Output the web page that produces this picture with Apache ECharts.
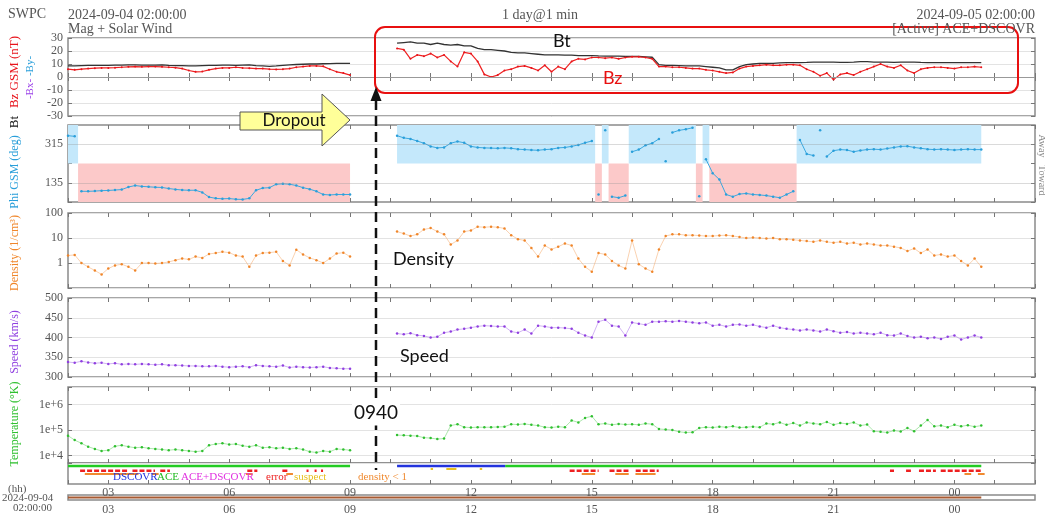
<!DOCTYPE html>
<html><head><meta charset="utf-8">
<script src="https://cdn.jsdelivr.net/npm/echarts/dist/echarts.min.js"></script>
<style>html,body{margin:0;padding:0;background:#fff}#c{width:1045px;height:516px}</style>
</head><body><div id="c"></div>
<script>
// ---------------- DATA (hours since 2024-09-04 00:00) ----------------
const startA = 2;             // 02:00
const startB = 10 + 10/60;    // 10:10 (after the dropout)
const stepH = 10/60;          // 10-minute samples
const gapAt = 9.5;

const btA = [8.5,8.6,8.8,9,9,9, 9,9.2,9.2,9.3,9.3,9.2, 9.2,9.2,9.3,9.0,8.8,8.8, 8.6,8.6,8.8,9,9,9.2, 9.2,9.0,9.2,9.3,8.8,8.5, 8.2,8.5,9,9.4,9.6,9.8, 10,10,10.2,10.3,10.5,10.5,10.5];
const btB = [26,26.5,27,26,26, 25,26,25,24.5,25,24,24, 22,21,21,20.5,20,19, 18.5,18.5,18,17.5, 17,17,17,16.8,16.8,16.5,16.5,16.5,16.2,16, 16,16,15.8,15.8,15.8,15.5,15.2, 9.5,9,9,8.8,8.5,8.5,8.5,8,7.5,7, 5.5,5.5, 8,9.5,10,10.5,10.5,10.5,10.8,11,11,11, 11.2,11.5,11.5,11.5,11.5,11.2,11.3,11.5,11.8,11.8,11.5,11.5,11.5,11.2,11.5,11.5,11.5,11.2,11,11,11,11,11,11,11,11,11];
const bzA = [6,5.5,6,6.5,6.8,7, 7,7.2,7.5,7.8,8,7.8, 8,8,7.8,7.5,7.2,6.5, 5,4,4.2,5.5,6.5,7, 7,7.5,7,6.8,6.5,6.5, 6,5.8,6,6.5,7.5,8, 8.5,8.5,8.2,6,4,3,1.5];
const bzB = [22,21,14,17,16, 18,15,17,12,8,19,18, 12,2,0,1.5,5,6, 8,8.5,7, 5,9,4,8,6, 12,14,13.5,15, 15,14.5,15,14,15,15.5,15.5,15,14, 8,8,7.5,7.5,7,6.5,6.5,5.5,5,4, 3,3.5, 6.5,8,8.5,9,9.5,9,9,9.5,9.5,9, 6,4,1,3,-2, 2,3,1.5,4, 6,8,10,8,7, 9,5,3,6, 7,7.5,7.5,7,6.5,7.5,7.5,8,7.5];
const phiA = [355,352,95,95,96,98, 99,101,103,115,122,118, 116,114,113,108,104,101, 100,100,90,68,62,60, 61,58,57,62,100,110, 112,128,130,128,122,112, 105,95,80,78,80,80,80];
const phiB = [355,345,340,330, 320,305,298,300,320, 328,322, 305,300,298,297,296,298,296, 292,290,288,287,290,292,298, 300,305,312,322,330, 80,380,70,65,75, 280,290,310,320,340,235, 370,380,385,392, 72, 245,180, 150,80,70,82,85,80,78,75,70,65,80,95, 335,270,262,380,258,285,290,288,280,286,290,292,290,295,300,305,306,300,296,292,290,292,290,288,290,292,290,290];
const densA = [2.0,2.1,1.0,0.7,0.5,0.35,0.6,0.8,0.9,0.7, 0.5,1.0,1.0,0.95,1.0,1.1,1.3,1.5,1.4,1.8, 1.6,2.3,2.5,2.8,2.6,2.0,1.8,0.7,2.0,2.5, 2.6,2.8,1.2,0.8,3.4,2.2,1.6,1.3,1.0,1.5, 2.4,2.6,1.8];
const densB = [18,15,12,14,22,25,18,14,5.5,8, 18,20,28,27,28,27,24,13,9,8, 4,1.8,5,3.5,4.5,6,5,1.5,0.7,0.45, 2.5,2.2,1.2,0.8,0.6,8,0.9,0.6,0.45,3.5, 12,14,14,13,13,12.5,12,12,12.5,13, 12,11,10,10.5,10,9.5,10,9,9,8.5, 8,7.5,7,8,7,6.5,7,6,6.5,5.5, 6,5.5,5,5,4.5,4,3,3.8,2.5,3.5, 2,2.2,1.8,2.0,1.2,0.8,1.5,0.7];
const speedA = [338,336,340,337,335, 336,333,335,332,333, 332,333,332,331,332,330,330,329, 328,328,327,327,328,326, 325,326,327,325,330,328,327, 326,329,324,326,325,324,325,326,323, 322,321,321];
const speedB = [410,408,411,406, 404,400,402, 412,415, 420,422,425, 428,430,429,428,428, 415,412,420,410, 430,428,425, 425,424,422, 412,405,400, 440,445,430, 428,405, 438,435,432,440, 440,441,440,442,440,438, 436,438,430,432,428,432,433, 430,432,428,425,430,425,422,420,418, 420,418,415,420,416,412,414,410,412, 410,408,412,406,405,410,404,400,402, 398,400,396,402,405,395,400,405,400];
const tempA = [60000,40000,30000, 22000,18000,15000,16000, 23000,25000,22000, 20000,21000,19000, 18000,17000,16000,17000,16000, 15000,14000,15000, 25000,28000,30000,27000,28000, 24000,22000,25000, 20000,21000,19000,20000, 18000,19000,17000, 14000,13000,15000,14000, 18000,17000,16000];
const tempB = [63000,62000,60000,58000, 50000,48000,44000,46000, 150000,170000, 130000,125000,130000,128000,130000,132000,135000, 170000,165000,175000,160000,150000, 130000,125000,135000,130000, 240000,200000,300000,350000, 170000,180000,160000,175000,165000,170000,160000,180000,170000, 110000,105000,100000, 85000,80000,82000, 120000,130000,125000,135000,130000,140000,125000,130000,135000,128000, 180000,170000,200000,160000,190000,150000,200000,180000,170000,210000,160000,190000,175000,200000,150000,165000, 90000,85000,80000,95000,88000,120000,90000, 150000,250000,140000, 150000,130000,160000,140000,155000,135000,150000];

// source / quality strip (hour spans)
const dscovrSpans = [[10.167, 12.85]];
const aceSpans = [[2, 9], [12.85, 24.667]];
const errorSpans = [[2.3,3.47],[3.6,4.16],[4.29,4.53],[6.45,6.7],[7.32,7.47],[7.92,7.97],[8.12,8.17],[8.28,8.33],[14.45,15.17],[15.44,15.91],[16.09,16.66],[22.4,22.5],[22.8,22.92],[23.12,23.54],[23.66,24.667]];
const suspectSpans = [[11.0,11.06],[11.39,11.64],[12.22,12.28]];
const coverageSpan = [[2, 24.667]];

// axis tick labels
const magTicks = [-30,-20,-10,0,10,20,30];
const phiLabels = [135, 315];
const phiSplit = 225;

// ---------------- HELPERS ----------------
function join(a, b, breakJump) {
  const out = [];
  const push = (arr, t0) => {
    let prev = null;
    arr.forEach((v, i) => {
      const t = t0 + i*stepH;
      if (breakJump && prev !== null && Math.abs(v - prev) > breakJump) out.push([t - stepH/2, '-']);
      out.push([t, v]); prev = v;
    });
  };
  push(a, startA); out.push([gapAt, '-']); push(b, startB);
  return out;
}
function spans(list, y) { const d = []; list.forEach(s => { d.push([s[0], y], [s[1], y], [s[1], '-']); }); return d; }
function phiAreas() {
  const areas = [];
  [[phiA, startA], [phiB, startB]].forEach(([arr, t0]) => {
    const segEnd = t0 + (arr.length-1)*stepH;
    let s = 0;
    for (let i = 1; i <= arr.length; i++) {
      const side = v => v >= phiSplit;
      if (i === arr.length || side(arr[i]) !== side(arr[s])) {
        const a = Math.max(t0, t0 + s*stepH - stepH/2), b = Math.min(segEnd, t0 + (i-1)*stepH + stepH/2);
        const up = side(arr[s]);
        areas.push([{xAxis: a, yAxis: up ? phiSplit : 45, itemStyle: {color: up ? '#c4e8fb' : '#fcc9c9'}}, {xAxis: b, yAxis: up ? 405 : phiSplit}]);
        s = i;
      }
    }
  });
  return areas;
}
function lowDensitySpans() {
  const out = [];
  [[densA, startA], [densB, startB]].forEach(([arr, t0]) => arr.forEach((v, i) => { if (v < 1) { const t = t0 + i*stepH; out.push([t - stepH/2, t + stepH/2]); } }));
  return out;
}

// ---------------- LAYOUT ----------------
const serif = "'Liberation Serif','DejaVu Serif',serif";
const sans = "Lato,'Open Sans','Liberation Sans',sans-serif";
const gray = '#555';
const grids = [
  {top: 38, height: 78}, {top: 125, height: 77}, {top: 213, height: 75}, {top: 298, height: 79},
  {top: 387, height: 76}, {top: 463, height: 21}, {top: 495, height: 7}
].map(g => Object.assign({left: 68, right: 10, show: true, borderColor: '#8a8a8a', borderWidth: 1.5, backgroundColor: 'transparent'}, g));

const hourFmt = v => { const r = Math.round(v); return (r % 3 === 0 && r > 2 && r < 26) ? String(r % 24).padStart(2, '0') : ''; };
const xAxes = [], xIdx = [];
grids.forEach((g, gi) => {
  xIdx.push(xAxes.length);
  xAxes.push({type: 'value', gridIndex: gi, min: 2, max: 26, interval: 1, position: 'bottom',
    axisLine: {show: false}, splitLine: {show: false},
    axisTick: {show: gi !== 6, inside: true, length: 4, lineStyle: {color: '#777'}},
    axisLabel: {show: gi >= 5, formatter: hourFmt, color: gray, fontFamily: serif, fontSize: 12, margin: gi === 5 ? 3 : 4}});
  if (gi < 5) xAxes.push({type: 'value', gridIndex: gi, min: 2, max: 26, interval: 1, position: 'top',
    axisLine: {show: false}, splitLine: {show: false}, axisLabel: {show: false},
    axisTick: {show: true, inside: true, length: 4, lineStyle: {color: '#777'}}});
});
const expFmt = v => { const e = Math.log10(v); return Math.abs(e - Math.round(e)) < 1e-6 ? '1e+' + Math.round(e) : ''; };
const yCfg = [
  {type: 'value', min: magTicks[0], max: magTicks[magTicks.length-1], interval: 10, split: true},
  {type: 'value', min: 45, max: 405, interval: 90, fmt: v => phiLabels.indexOf(v) >= 0 ? String(v) : '', split: false},
  {type: 'log', min: 0.1, max: 100, fmt: v => v >= 0.99 ? String(Math.round(v)) : '', split: true},
  {type: 'value', min: 300, max: 500, interval: 50, split: true},
  {type: 'log', min: 5000, max: 5e6, fmt: expFmt, split: true},
  {type: 'value', min: 0, max: 10, hide: true},
  {type: 'value', min: 0, max: 10, hide: true}
];
const yAxes = [], yIdx = [];
yCfg.forEach((c, gi) => {
  yIdx.push(yAxes.length);
  const base = {type: c.type, gridIndex: gi, min: c.min, max: c.max, axisLine: {show: false}};
  if (c.interval) base.interval = c.interval;
  if (c.type === 'log') { base.logBase = 10; base.splitNumber = 3; }
  yAxes.push(Object.assign({}, base, {position: 'left',
    axisTick: {show: !c.hide, inside: true, length: 4, lineStyle: {color: '#777'}},
    axisLabel: {show: !c.hide, color: gray, fontFamily: serif, fontSize: 12, margin: 5, formatter: c.fmt || (v => String(v))},
    splitLine: {show: !!c.split, lineStyle: {color: '#e3e3e3', width: 1}}}));
  if (!c.hide) yAxes.push(Object.assign({}, base, {position: 'right',
    axisTick: {show: true, inside: true, length: 4, lineStyle: {color: '#777'}},
    axisLabel: {show: false}, splitLine: {show: false}}));
});

const ax = gi => ({xAxisIndex: xIdx[gi], yAxisIndex: yIdx[gi]});
const flat = {symbol: 'none', silent: true, animation: false};

const series = [
  Object.assign(ax(0), {type: 'line', data: join(btA, btB), showSymbol: false, lineStyle: {color: '#333', width: 1.3}, z: 3,
    markLine: {silent: true, symbol: 'none', label: {show: false}, data: [{yAxis: 0}], lineStyle: {color: '#999', type: 'solid', width: 1}}}),
  Object.assign(ax(0), {type: 'line', data: join(bzA, bzB), showSymbol: true, showAllSymbol: true, symbol: 'circle', symbolSize: 2,
    itemStyle: {color: '#e8141c'}, lineStyle: {color: '#ee2020', width: 1.2}, z: 4}),
  Object.assign(ax(1), {type: 'line', data: [], z: 1, silent: true, markArea: {silent: true, data: phiAreas()}}),
  Object.assign(ax(1), {type: 'line', data: join(phiA, phiB, 100), showSymbol: true, showAllSymbol: true, symbol: 'circle', symbolSize: 2.5,
    itemStyle: {color: '#2a9fda'}, lineStyle: {color: '#3aa8e0', width: 1}, z: 4,
    markLine: {silent: true, symbol: 'none', label: {show: false}, data: phiLabels.map(v => ({yAxis: v})), lineStyle: {color: 'rgba(150,150,150,0.35)', type: 'solid', width: 1}}}),
  Object.assign(ax(2), {type: 'line', data: join(densA, densB), showSymbol: true, showAllSymbol: true, symbol: 'circle', symbolSize: 2.5,
    itemStyle: {color: '#f0862a'}, lineStyle: {color: '#f5a05a', width: 0.8, opacity: 0.6}, z: 4}),
  Object.assign(ax(3), {type: 'line', data: join(speedA, speedB), showSymbol: true, showAllSymbol: true, symbol: 'circle', symbolSize: 2.5,
    itemStyle: {color: '#9040e0'}, lineStyle: {color: '#a060e8', width: 0.8, opacity: 0.6}, z: 4}),
  Object.assign(ax(4), {type: 'line', data: join(tempA, tempB), showSymbol: true, showAllSymbol: true, symbol: 'circle', symbolSize: 2.5,
    itemStyle: {color: '#30c030'}, lineStyle: {color: '#50cc50', width: 0.8, opacity: 0.6}, z: 4}),
  Object.assign(ax(5), flat, {type: 'line', data: spans(aceSpans, 8.6), lineStyle: {color: '#22cc22', width: 2.5}}),
  Object.assign(ax(5), flat, {type: 'line', data: spans(dscovrSpans, 8.6), lineStyle: {color: '#2233dd', width: 2.5}}),
  Object.assign(ax(5), flat, {type: 'line', data: spans(suspectSpans, 7.2), lineStyle: {color: '#e8c020', width: 2}}),
  Object.assign(ax(5), flat, {type: 'line', data: spans(errorSpans, 6.3), lineStyle: {color: '#ee2020', width: 2.5, type: [5, 2]}}),
  Object.assign(ax(5), flat, {type: 'line', data: spans(lowDensitySpans(), 4.8), lineStyle: {color: '#f08a30', width: 2}}),
  Object.assign(ax(6), flat, {type: 'line', data: spans(coverageSpan, 5), lineStyle: {color: '#a85a32', width: 2}})
];

// ---------------- TEXT & ANNOTATIONS ----------------
const T = (x, y, text, o) => Object.assign({type: 'text', x, y, z: 70, style: Object.assign({text, fill: gray, fontFamily: serif, fontSize: 14, textAlign: 'left', textVerticalAlign: 'middle'}, o || {})});
const V = (x, y, text, color, size) => ({type: 'text', x, y, rotation: Math.PI/2, z: 50,
  style: {text, fill: color, fontFamily: serif, fontSize: size || 12, textAlign: 'center', textVerticalAlign: 'middle'}});
const graphic = [
  T(8, 14, 'SWPC'), T(68, 15, '2024-09-04 02:00:00'), T(68, 29, 'Mag + Solar Wind'),
  T(540, 15, '1 day@1 min', {textAlign: 'center'}),
  T(1035, 15, '2024-09-05 02:00:00', {textAlign: 'right'}), T(1035, 29, '[Active] ACE+DSCOVR', {textAlign: 'right'}),
  V(15, 72, 'Bz GSM (nT)', '#e8141c', 13), V(15, 122, 'Bt', '#111', 13),
  V(30, 89, '-Bx-', '#9a40e8', 11), V(30, 66, '-By-', '#2a9fda', 11),
  V(15, 172, 'Phi GSM (deg)', '#2a9fda'), V(15, 253, 'Density (1/cm\u00b3)', '#f0862a'),
  V(15, 342, 'Speed (km/s)', '#9040e0'), V(15, 424, 'Temperature (\u00b0K)', '#30c030'),
  {type: 'text', x: 1042, y: 165, rotation: -Math.PI/2, z: 50, style: {text: 'Away   Toward', fill: '#888', fontFamily: serif, fontSize: 10, textAlign: 'center', textVerticalAlign: 'middle'}},
  T(113, 477, 'DSCOVR', {fill: '#2233dd', fontSize: 11}), T(157, 477, 'ACE', {fill: '#22bb22', fontSize: 11}),
  T(181, 477, 'ACE+DSCOVR', {fill: '#e030e0', fontSize: 11}), T(266, 477, 'error', {fill: '#ee2020', fontSize: 11}),
  T(294, 477, 'suspect', {fill: '#e8c020', fontSize: 11}), T(358, 477, 'density < 1', {fill: '#f08a30', fontSize: 11}),
  T(8, 489, '(hh)', {fontSize: 11}), T(2, 498, '2024-09-04', {fontSize: 11}), T(13, 508, '02:00:00', {fontSize: 11}),
  // annotations
  {type: 'rect', z: 60, shape: {x: 375, y: 27, width: 643, height: 66, r: 10}, style: {fill: 'none', stroke: '#e81010', lineWidth: 2}},
  T(553, 41, 'Bt', {fill: '#111', fontFamily: sans, fontSize: 18}),
  T(603, 78, 'Bz', {fill: '#e81010', fontFamily: sans, fontSize: 18}),
  {type: 'polygon', z: 60, shape: {points: [[240,112],[322,112],[322,94],[350,120],[322,146],[322,130],[240,130]]}, style: {fill: '#ffff99', stroke: '#555', lineWidth: 1}},
  T(294, 121, 'Dropout', {fill: '#111', fontFamily: sans, fontSize: 17, textAlign: 'center'}),
  {type: 'polyline', z: 60, shape: {points: [[376, 100], [376, 470]]}, style: {stroke: '#111', lineWidth: 2.5, lineDash: [10, 6]}},
  {type: 'polygon', z: 60, shape: {points: [[376, 87], [370.5, 101], [381.5, 101]]}, style: {fill: '#111'}},
  {type: 'text', x: 376, y: 413, z: 71, style: {text: '0940', fill: '#111', fontFamily: sans, fontSize: 19, textAlign: 'center', textVerticalAlign: 'middle', backgroundColor: '#fff', padding: [3, 2]}},
  T(393, 259, 'Density', {fill: '#111', fontFamily: sans, fontSize: 18}),
  T(400, 356, 'Speed', {fill: '#111', fontFamily: sans, fontSize: 18})
];

const chart = echarts.init(document.getElementById('c'));
chart.setOption({animation: false, grid: grids, xAxis: xAxes, yAxis: yAxes, series, graphic});
</script></body></html>
